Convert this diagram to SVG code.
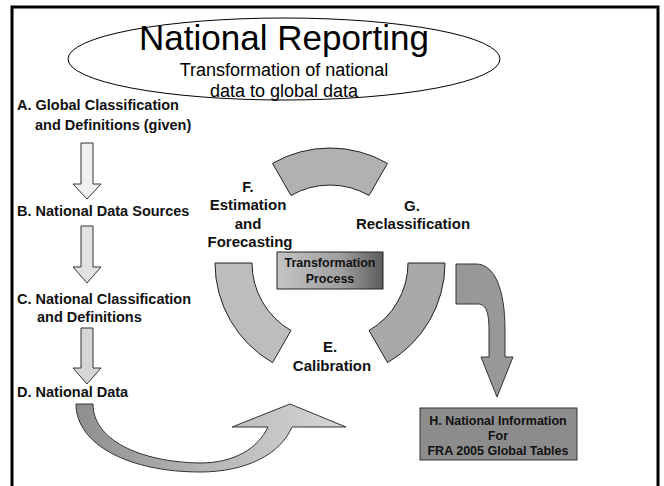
<svg xmlns="http://www.w3.org/2000/svg" width="664" height="486" viewBox="0 0 664 486">
<defs>
<style>
.lbl{font-family:"Liberation Sans",Arial,sans-serif;font-weight:bold;font-size:14.5px;fill:#111}
.mid{text-anchor:middle}
.big{font-family:"Liberation Sans",Arial,sans-serif;fill:#000;text-anchor:middle}
.small{font-family:"Liberation Sans",Arial,sans-serif;font-weight:bold;font-size:12.5px;fill:#111;text-anchor:middle}
.arr{stroke:#333;stroke-width:1}
.seg{stroke:#222;stroke-width:1}
</style>
<linearGradient id="tp" x1="0" y1="0" x2="1" y2="0">
<stop offset="0" stop-color="#c4c4c4"/>
<stop offset="0.6" stop-color="#a0a0a0"/>
<stop offset="1" stop-color="#5c5c5c"/>
</linearGradient>
<linearGradient id="cu" gradientUnits="userSpaceOnUse" x1="76" y1="0" x2="346" y2="0">
<stop offset="0" stop-color="#8e8e8e"/>
<stop offset="0.45" stop-color="#b4b4b4"/>
<stop offset="1" stop-color="#d6d6d6"/>
</linearGradient>
</defs>
<rect x="0" y="0" width="664" height="486" fill="#fff"/>
<rect x="12" y="7" width="646" height="490" fill="none" stroke="#000" stroke-width="3"/>

<g id="title">
<ellipse cx="284" cy="59" rx="216" ry="41" fill="none" stroke="#000" stroke-width="1"/>
<text class="big" x="284" y="50" font-size="35">National Reporting</text>
<text class="big" x="284" y="76" font-size="18">Transformation of national</text>
<text class="big" x="284" y="97" font-size="18">data to global data</text>
</g>

<g id="nodeA">
<text class="lbl" x="17" y="110">A. Global Classification</text>
<text class="lbl" x="35" y="130">and Definitions (given)</text>
</g>
<g id="nodeB">
<text class="lbl" x="17" y="216">B. National Data Sources</text>
</g>
<g id="nodeC">
<text class="lbl" x="17" y="304">C. National Classification</text>
<text class="lbl" x="37" y="322">and Definitions</text>
</g>
<g id="nodeD">
<text class="lbl" x="17" y="397">D. National Data</text>
</g>
<g id="nodeF">
<text class="lbl mid" x="248" y="192" font-size="15">F.</text>
<text class="lbl mid" x="248" y="210" style="font-size:15px">Estimation</text>
<text class="lbl mid" x="248" y="229" style="font-size:15px">and</text>
<text class="lbl mid" x="250" y="247" style="font-size:15px">Forecasting</text>
</g>
<g id="nodeG">
<text class="lbl mid" x="412" y="211" style="font-size:15px">G.</text>
<text class="lbl mid" x="413" y="229" style="font-size:15px">Reclassification</text>
</g>
<g id="nodeE">
<text class="lbl mid" x="330" y="352" style="font-size:15px">E.</text>
<text class="lbl mid" x="332" y="371" style="font-size:15px">Calibration</text>
</g>
<g id="ring">
<path class="seg" fill="#b1b1b1" d="M272.5,163.4 A115,115 0 0 1 387.5,163.4 L369,195.5 A78,78 0 0 0 291,195.5 Z"/>
<path class="seg" fill="#bdbdbd" d="M215,263 L252,263 A78,78 0 0 0 291,330.5 L272.5,362.6 A115,115 0 0 1 215,263 Z"/>
<path class="seg" fill="#a8a8a8" d="M445,263 L408,263 A78,78 0 0 1 369,330.5 L387.5,362.6 A115,115 0 0 0 445,263 Z"/>
</g>
<g id="nodeTP">
<rect x="277" y="252" width="106" height="37" fill="url(#tp)" stroke="#222" stroke-width="1"/>
<text class="small" x="330" y="267">Transformation</text>
<text class="small" x="330" y="283">Process</text>
</g>
<g id="nodeH">
<rect x="420" y="408" width="157" height="52" fill="#8c8c8c" stroke="#333" stroke-width="1"/>
<text class="small" x="498" y="425">H. National Information</text>
<text class="small" x="498" y="440">For</text>
<text class="small" x="498" y="455">FRA 2005 Global Tables</text>
</g>

<g id="connectors">
<path class="arr" fill="#f0f0f0" d="M81,143 L93,143 L93,184 L101,184 L87,199 L73,184 L81,184 Z"/>
<path class="arr" fill="#e2e2e2" d="M81,226 L93,226 L93,267 L101,267 L87,283 L73,267 L81,267 Z"/>
<path class="arr" fill="#d6d6d6" d="M81,328 L93,328 L93,368 L101,368 L87,384 L73,368 L81,368 Z"/>
<path class="arr" fill="url(#cu)" d="M76,404 L93,404 C93,440 140,462 200,463 C235,463 258,448 268,427 L232,427 L290,404 L346,427 L292,427 C280,455 245,472 200,472 C130,472 76,445 76,404 Z"/>
<path class="arr" fill="#989898" d="M456,264 L476,264 C495,264 505,290 505,330 L505,357 L513,357 L497,397 L481,357 L489,357 L489,330 C489,315 487,304 478,304 L456,304 Z"/>
</g>
</svg>
